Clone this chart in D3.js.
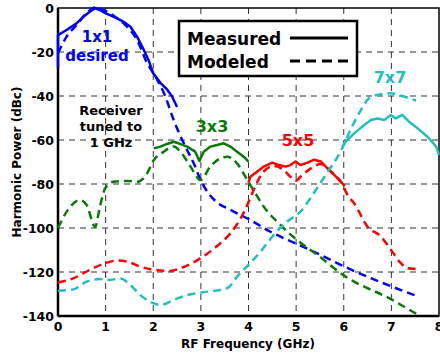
<!DOCTYPE html>
<html>
<head>
<meta charset="utf-8">
<script src="https://cdn.jsdelivr.net/npm/d3@7"></script>
<style>
  body { margin: 0; background: #fff; }
  text { font-family: "DejaVu Sans", Verdana, sans-serif; font-weight: bold; }
</style>
</head>
<body>
<svg id="chart" width="440" height="354"></svg>
<script>
// axis ticks
const xTicks = [0, 1, 2, 3, 4, 5, 6, 7, 8];
const yTicks = [0, -20, -40, -60, -80, -100, -120, -140];

// 1x1 (desired)
const meas1 = [[0,-27],[0,-12.3],[0.18,-10],[0.39,-7],[0.53,-4],[0.67,-1.7],[0.78,-0.1],[0.88,-0.9],
  [0.98,-2.2],[1.09,-3.2],[1.24,-4.7],[1.37,-6.2],[1.52,-8.5],[1.66,-13],[1.8,-19],[1.9,-23.6],
  [2.0,-29.7],[2.15,-34],[2.29,-37],[2.39,-40],[2.5,-45]];
const model1 = [[0,-20.6],[0.18,-13],[0.39,-7.7],[0.6,-2.4],[0.78,0.2],[1.03,-1.7],[1.24,-4.7],
  [1.45,-8.5],[1.66,-14.5],[1.87,-25],[2.04,-31],[2.25,-40],[2.43,-51],[2.64,-61.5],[2.85,-70.6],
  [2.99,-78],[3.34,-88.4],[3.6,-91.5],[4.04,-96.4],[4.46,-101.7],[5.02,-107.3],[5.52,-112.3],
  [6.02,-117.6],[7.02,-126.7],[7.52,-130.8]];

// 3x3
const meas3 = [[2.01,-63.8],[2.15,-63],[2.29,-61.8],[2.43,-60.8],[2.53,-61.5],[2.71,-63],[2.88,-65.3],
  [2.97,-69.5],[3.06,-65.3],[3.2,-63],[3.34,-62.3],[3.48,-61.5],[3.62,-63],[3.76,-65.3],[3.9,-67.6],[4.0,-69.8]];
const model3 = [[0,-100],[0.2,-92],[0.46,-87.3],[0.6,-89.5],[0.78,-99.4],[0.88,-90.3],[0.99,-82],
  [1.16,-79],[1.45,-78.6],[1.66,-79],[1.87,-75.2],[2.0,-69.5],[2.22,-65.3],[2.43,-63],[2.57,-65.3],
  [2.78,-72],[2.99,-78.2],[3.2,-72],[3.41,-68.3],[3.55,-67.6],[3.76,-70.6],[3.97,-78],[4.18,-85.5],
  [4.32,-90.3],[4.67,-98.6],[5.02,-105.5],[5.45,-112.3],[6.02,-121.8],[7.02,-132.7],[7.52,-139]];

// 5x5
const meas5 = [[4.0,-79.5],[4.04,-76.7],[4.18,-74.4],[4.32,-72.1],[4.5,-70.3],[4.64,-71.4],[4.78,-72.1],
  [4.88,-71.4],[4.99,-69.8],[5.09,-71.4],[5.24,-70.3],[5.37,-69],[5.52,-69.8],[5.66,-72.9],[5.8,-75.9],
  [5.94,-79],[6.02,-81]];
const model5 = [[0,-124.8],[0.32,-122.9],[0.67,-119],[0.99,-116],[1.24,-114.8],[1.45,-115.3],[1.73,-117.6],
  [2.01,-119],[2.36,-119.5],[2.57,-118.3],[2.99,-113.8],[3.34,-108.2],[3.62,-102.4],[3.9,-93],
  [4.08,-84.2],[4.22,-77.5],[4.32,-74.4],[4.53,-71.8],[4.74,-73.6],[4.88,-76.7],[4.99,-78.5],
  [5.13,-75.9],[5.31,-72.9],[5.52,-70.9],[5.66,-72.9],[5.8,-75.9],[5.94,-79],[6.08,-85],[6.22,-88.8],
  [6.5,-99.4],[6.78,-103.9],[7.02,-110.8],[7.2,-116],[7.34,-118.3],[7.52,-118.6]];

// 7x7
const meas7 = [[5.97,-63],[6.04,-60.8],[6.22,-57],[6.43,-53.2],[6.57,-50.9],[6.71,-50.2],[6.85,-50.9],
  [6.99,-48.6],[7.09,-50.2],[7.23,-48.6],[7.37,-51.7],[7.55,-54.7],[7.76,-58.5],[7.94,-63],[8.0,-66.8]];
const model7 = [[0,-128.5],[0.32,-127.9],[0.6,-124.4],[0.88,-123.2],[1.09,-123.6],[1.31,-122.9],
  [1.52,-125.9],[1.73,-130.5],[2.01,-134.2],[2.15,-135],[2.43,-132.7],[2.71,-130.5],[2.99,-129.4],
  [3.55,-127.4],[3.76,-122.1],[4.0,-116.8],[4.25,-110.8],[4.53,-103.2],[4.81,-97.1],[5.09,-92.6],
  [5.37,-84.2],[5.6,-76.5],[5.94,-65],[6.15,-55],[6.36,-46.4],[6.53,-41],[6.71,-39.5],[6.99,-38.8],
  [7.27,-40.3],[7.52,-42.1]];

const series = [
  { meas: meas1, model: model1, color: '#0000ff' },
  { meas: meas3, model: model3, color: '#087a08' },
  { meas: meas5, model: model5, color: '#ff0000' },
  { meas: meas7, model: model7, color: '#1fc0c0' }
];

const svg = d3.select('#chart');

// scales
const x = d3.scaleLinear().domain([0, 8]).range([58, 439]);
const y = d3.scaleLinear().domain([-140, 0]).range([316, 8]);

// grid
const grid = svg.append('g');
grid.selectAll('line.gx')
  .data(xTicks.slice(1, -1))
  .enter().append('line')
  .attr('x1', d => x(d)).attr('x2', d => x(d))
  .attr('y1', y(0)).attr('y2', y(-140))
  .attr('stroke', '#333').attr('stroke-width', 1)
  .attr('stroke-dasharray', '6,5');
grid.selectAll('line.gy')
  .data(yTicks.slice(1, -1))
  .enter().append('line')
  .attr('x1', x(0)).attr('x2', x(8))
  .attr('y1', d => y(d)).attr('y2', d => y(d))
  .attr('stroke', '#333').attr('stroke-width', 1)
  .attr('stroke-dasharray', '6,5');

// frame
svg.append('rect')
  .attr('x', x(0)).attr('y', y(0))
  .attr('width', x(8) - x(0)).attr('height', y(-140) - y(0))
  .attr('fill', 'none').attr('stroke', '#000').attr('stroke-width', 1.5);
svg.append('line')
  .attr('x1', x(0)).attr('x2', x(8)).attr('y1', y(-140)).attr('y2', y(-140))
  .attr('stroke', '#000').attr('stroke-width', 2.5);
svg.append('line')
  .attr('x1', x(0)).attr('x2', x(0)).attr('y1', y(0)).attr('y2', y(-140))
  .attr('stroke', '#000').attr('stroke-width', 2.5);

// tick labels
svg.selectAll('text.xt')
  .data(xTicks)
  .enter().append('text')
  .attr('x', d => x(d)).attr('y', 331)
  .attr('text-anchor', 'middle').attr('font-size', 12.5)
  .text(d => d);
svg.selectAll('text.yt')
  .data(yTicks)
  .enter().append('text')
  .attr('x', 54).attr('y', d => y(d) + 5)
  .attr('text-anchor', 'end').attr('font-size', 12.5)
  .text(d => d);

// axis titles
svg.append('text')
  .attr('x', 248).attr('y', 348)
  .attr('text-anchor', 'middle').attr('font-size', 12)
  .text('RF Frequency (GHz)');
svg.append('text')
  .attr('transform', 'translate(21,162) rotate(-90)')
  .attr('text-anchor', 'middle').attr('font-size', 12)
  .text('Harmonic Power (dBc)');

// curves
const line = d3.line().x(d => x(d[0])).y(d => y(d[1]));
const smooth = d3.line().x(d => x(d[0])).y(d => y(d[1])).curve(d3.curveMonotoneX);

const plot = svg.append('g');
series.forEach(s => {
  plot.append('path')
    .datum(s.model)
    .attr('d', smooth)
    .attr('fill', 'none').attr('stroke', s.color)
    .attr('stroke-width', 2.5).attr('stroke-dasharray', '8,5');
  plot.append('path')
    .datum(s.meas)
    .attr('d', line)
    .attr('fill', 'none').attr('stroke', s.color)
    .attr('stroke-width', 2.5).attr('stroke-linejoin', 'round');
});

// labels
const lab = (t, px, py, c, fs, anchor) => svg.append('text')
  .attr('x', px).attr('y', py).attr('fill', c).attr('font-size', fs)
  .attr('text-anchor', anchor || 'middle').text(t);
lab('1x1', 97, 42, '#0000ff', 15);
lab('desired', 97, 61, '#0000ff', 15);
lab('Receiver', 111, 115, '#000', 13);
lab('tuned to', 111, 131, '#000', 13);
lab('1 GHz', 111, 147, '#000', 13);
lab('3x3', 212, 132, '#087a08', 16);
lab('5x5', 298, 146, '#ff0000', 16);
lab('7x7', 390, 83, '#1fc0c0', 16);

// legend
svg.append('rect')
  .attr('x', 179).attr('y', 21).attr('width', 178).attr('height', 55)
  .attr('fill', '#fff').attr('stroke', '#000').attr('stroke-width', 2.5);
lab('Measured', 187, 45, '#000', 17, 'start');
lab('Modeled', 187, 68, '#000', 17, 'start');
svg.append('line')
  .attr('x1', 290).attr('x2', 348).attr('y1', 38).attr('y2', 38)
  .attr('stroke', '#000').attr('stroke-width', 3);
svg.append('line')
  .attr('x1', 290).attr('x2', 348).attr('y1', 61).attr('y2', 61)
  .attr('stroke', '#000').attr('stroke-width', 3).attr('stroke-dasharray', '10,6');
</script>
</body>
</html>
